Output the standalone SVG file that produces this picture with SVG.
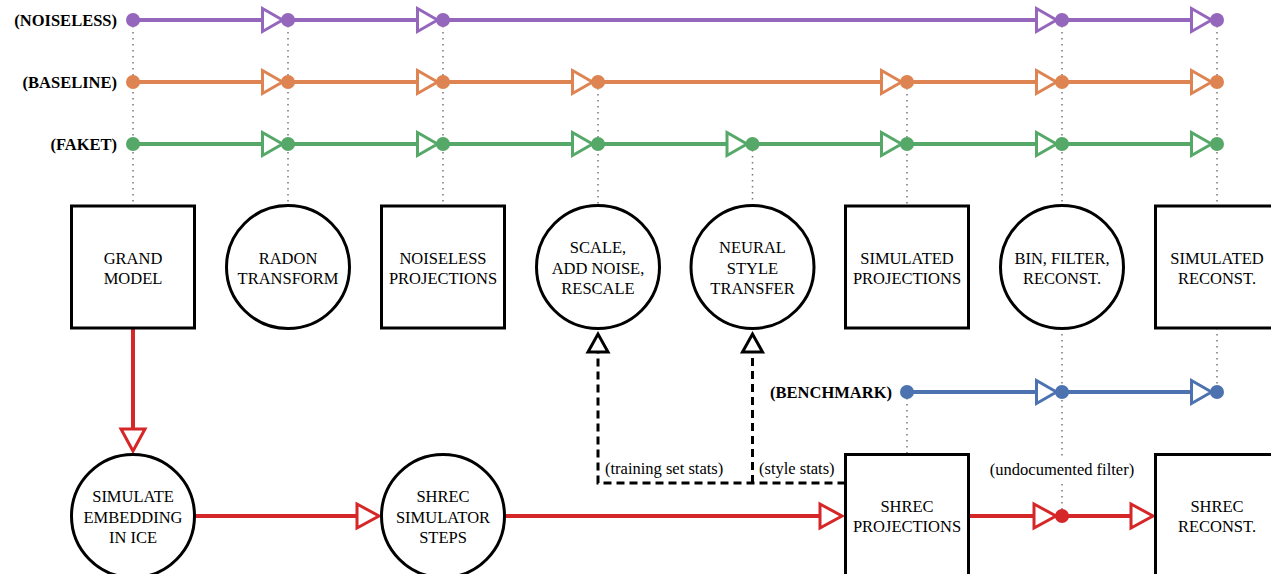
<svg xmlns="http://www.w3.org/2000/svg" width="1271" height="574" viewBox="0 0 1271 574" font-family="'Liberation Serif', Tinos, 'Times New Roman', 'DejaVu Serif', serif">
<style>
text{font-family:'Liberation Serif',Tinos,'Times New Roman','DejaVu Serif',serif;font-size:16.5px;fill:#000}
.lbl{font-weight:bold;text-anchor:end}
.nt{text-anchor:middle}
.node{fill:#fff;stroke:#000;stroke-width:3}
.dot{fill:none;stroke:#777;stroke-width:1.5;stroke-dasharray:1.5 4.5}
.flow{fill:none;stroke-width:4}
.pu{stroke:#9467bd}.or{stroke:#dd8452}.gr{stroke:#55a868}.bl{stroke:#4c72b0}.rd{stroke:#d62728}
.dash{fill:none;stroke:#000;stroke-width:3;stroke-dasharray:8 5}
</style>
<defs>
<marker id="mpu" markerUnits="userSpaceOnUse" viewBox="-3 -16 28 32" markerWidth="28" markerHeight="32" refX="0" refY="0" orient="auto"><path d="M0,-11.5L20,0L0,11.5Z" fill="#fff" stroke="#9467bd" stroke-width="3"/></marker>
<marker id="mor" markerUnits="userSpaceOnUse" viewBox="-3 -16 28 32" markerWidth="28" markerHeight="32" refX="0" refY="0" orient="auto"><path d="M0,-11.5L20,0L0,11.5Z" fill="#fff" stroke="#dd8452" stroke-width="3"/></marker>
<marker id="mgr" markerUnits="userSpaceOnUse" viewBox="-3 -16 28 32" markerWidth="28" markerHeight="32" refX="0" refY="0" orient="auto"><path d="M0,-11.5L20,0L0,11.5Z" fill="#fff" stroke="#55a868" stroke-width="3"/></marker>
<marker id="mbl" markerUnits="userSpaceOnUse" viewBox="-3 -16 28 32" markerWidth="28" markerHeight="32" refX="0" refY="0" orient="auto"><path d="M0,-11.5L20,0L0,11.5Z" fill="#fff" stroke="#4c72b0" stroke-width="3"/></marker>
<marker id="mrd" markerUnits="userSpaceOnUse" viewBox="-3 -16 30 32" markerWidth="30" markerHeight="32" refX="0" refY="0" orient="auto"><path d="M0,-12L22,0L0,12Z" fill="#fff" stroke="#d62728" stroke-width="3"/></marker>
<marker id="mbk" markerUnits="userSpaceOnUse" viewBox="-3 -14 26 28" markerWidth="26" markerHeight="28" refX="0" refY="0" orient="auto"><path d="M0,-10L18,0L0,10Z" fill="#fff" stroke="#000" stroke-width="3" stroke-dasharray="none"/></marker>
</defs>

<g id="guides">
<path class="dot" d="M133,20V206M288,20V206M443,20V206M598,82V206M752.5,144V206M907,82V206M907,392V454M1062,20V206M1062,328V458M1062,484V516M1217,20V206M1217,328V392"/>
</g>

<g id="connectors">
<g class="flow pu">
<line x1="133" y1="20" x2="262.5" y2="20" marker-end="url(#mpu)"/>
<line x1="288" y1="20" x2="417.5" y2="20" marker-end="url(#mpu)"/>
<line x1="443" y1="20" x2="1036.5" y2="20" marker-end="url(#mpu)"/>
<line x1="1062" y1="20" x2="1191.5" y2="20" marker-end="url(#mpu)"/>
</g>
<g class="flow or">
<line x1="133" y1="82" x2="262.5" y2="82" marker-end="url(#mor)"/>
<line x1="288" y1="82" x2="417.5" y2="82" marker-end="url(#mor)"/>
<line x1="443" y1="82" x2="572.5" y2="82" marker-end="url(#mor)"/>
<line x1="598" y1="82" x2="881.5" y2="82" marker-end="url(#mor)"/>
<line x1="907" y1="82" x2="1036.5" y2="82" marker-end="url(#mor)"/>
<line x1="1062" y1="82" x2="1191.5" y2="82" marker-end="url(#mor)"/>
</g>
<g class="flow gr">
<line x1="133" y1="144" x2="262.5" y2="144" marker-end="url(#mgr)"/>
<line x1="288" y1="144" x2="417.5" y2="144" marker-end="url(#mgr)"/>
<line x1="443" y1="144" x2="572.5" y2="144" marker-end="url(#mgr)"/>
<line x1="598" y1="144" x2="727" y2="144" marker-end="url(#mgr)"/>
<line x1="752.5" y1="144" x2="881.5" y2="144" marker-end="url(#mgr)"/>
<line x1="907" y1="144" x2="1036.5" y2="144" marker-end="url(#mgr)"/>
<line x1="1062" y1="144" x2="1191.5" y2="144" marker-end="url(#mgr)"/>
</g>
<g class="flow bl">
<line x1="907" y1="392" x2="1036.5" y2="392" marker-end="url(#mbl)"/>
<line x1="1062" y1="392" x2="1191.5" y2="392" marker-end="url(#mbl)"/>
</g>
<g class="flow rd">
<line x1="133" y1="328" x2="133" y2="429" marker-end="url(#mrd)"/>
<line x1="194.5" y1="516" x2="357" y2="516" marker-end="url(#mrd)"/>
<line x1="504.5" y1="516" x2="820" y2="516" marker-end="url(#mrd)"/>
<line x1="968.5" y1="516" x2="1034" y2="516" marker-end="url(#mrd)"/>
<line x1="1062" y1="516" x2="1131" y2="516" marker-end="url(#mrd)"/>
</g>
<path class="dash" d="M845.5,483H598V352" marker-end="url(#mbk)"/>
<path class="dash" d="M752.5,483V352" marker-end="url(#mbk)"/>
<g id="points">
<circle cx="133" cy="20" r="7" fill="#9467bd"/><circle cx="288" cy="20" r="7" fill="#9467bd"/><circle cx="443" cy="20" r="7" fill="#9467bd"/><circle cx="1062" cy="20" r="7" fill="#9467bd"/><circle cx="1217" cy="20" r="7" fill="#9467bd"/>
<circle cx="133" cy="82" r="7" fill="#dd8452"/><circle cx="288" cy="82" r="7" fill="#dd8452"/><circle cx="443" cy="82" r="7" fill="#dd8452"/><circle cx="598" cy="82" r="7" fill="#dd8452"/><circle cx="907" cy="82" r="7" fill="#dd8452"/><circle cx="1062" cy="82" r="7" fill="#dd8452"/><circle cx="1217" cy="82" r="7" fill="#dd8452"/>
<circle cx="133" cy="144" r="7" fill="#55a868"/><circle cx="288" cy="144" r="7" fill="#55a868"/><circle cx="443" cy="144" r="7" fill="#55a868"/><circle cx="598" cy="144" r="7" fill="#55a868"/><circle cx="752.5" cy="144" r="7" fill="#55a868"/><circle cx="907" cy="144" r="7" fill="#55a868"/><circle cx="1062" cy="144" r="7" fill="#55a868"/><circle cx="1217" cy="144" r="7" fill="#55a868"/>
<circle cx="907" cy="392" r="7" fill="#4c72b0"/><circle cx="1062" cy="392" r="7" fill="#4c72b0"/><circle cx="1217" cy="392" r="7" fill="#4c72b0"/>
<circle cx="1062" cy="516" r="7" fill="#d62728"/>
</g>
</g>

<g id="labels">
<text class="lbl" x="117" y="26">(NOISELESS)</text>
<text class="lbl" x="117" y="88">(BASELINE)</text>
<text class="lbl" x="117" y="150">(FAKET)</text>
<text class="lbl" x="892" y="398">(BENCHMARK)</text>
<text x="605" y="474">(training set stats)</text>
<text x="759" y="474">(style stats)</text>
<text class="nt" x="1062" y="475">(undocumented filter)</text>
</g>

<g id="grand-model"><rect class="node" x="71.5" y="206" width="123" height="122"/><text class="nt" x="133" y="263.5">GRAND</text><text class="nt" x="133" y="284">MODEL</text></g>
<g id="radon-transform"><circle class="node" cx="288" cy="267" r="61.5"/><text class="nt" x="288" y="263.5">RADON</text><text class="nt" x="288" y="284">TRANSFORM</text></g>
<g id="noiseless-projections"><rect class="node" x="381.5" y="206" width="123" height="122"/><text class="nt" x="443" y="263.5">NOISELESS</text><text class="nt" x="443" y="284">PROJECTIONS</text></g>
<g id="scale-noise"><circle class="node" cx="598" cy="267" r="61.5"/><text class="nt" x="598" y="253">SCALE,</text><text class="nt" x="598" y="273.5">ADD NOISE,</text><text class="nt" x="598" y="294">RESCALE</text></g>
<g id="neural-style"><circle class="node" cx="752.5" cy="267" r="61.5"/><text class="nt" x="752.5" y="253">NEURAL</text><text class="nt" x="752.5" y="273.5">STYLE</text><text class="nt" x="752.5" y="294">TRANSFER</text></g>
<g id="simulated-projections"><rect class="node" x="845.5" y="206" width="123" height="122"/><text class="nt" x="907" y="263.5">SIMULATED</text><text class="nt" x="907" y="284">PROJECTIONS</text></g>
<g id="bin-filter"><circle class="node" cx="1062" cy="267" r="61.5"/><text class="nt" x="1062" y="263.5">BIN, FILTER,</text><text class="nt" x="1062" y="284">RECONST.</text></g>
<g id="simulated-reconst"><rect class="node" x="1155.5" y="206" width="123" height="122"/><text class="nt" x="1217" y="263.5">SIMULATED</text><text class="nt" x="1217" y="284">RECONST.</text></g>

<g id="simulate-embedding"><circle class="node" cx="133" cy="516" r="61.5"/><text class="nt" x="133" y="502">SIMULATE</text><text class="nt" x="133" y="522.5">EMBEDDING</text><text class="nt" x="133" y="543">IN ICE</text></g>
<g id="shrec-simulator"><circle class="node" cx="443" cy="516" r="61.5"/><text class="nt" x="443" y="502">SHREC</text><text class="nt" x="443" y="522.5">SIMULATOR</text><text class="nt" x="443" y="543">STEPS</text></g>
<g id="shrec-projections"><rect class="node" x="845.5" y="454.5" width="123" height="124"/><text class="nt" x="907" y="511.5">SHREC</text><text class="nt" x="907" y="532">PROJECTIONS</text></g>
<g id="shrec-reconst"><rect class="node" x="1155.5" y="454.5" width="123" height="124"/><text class="nt" x="1217" y="511.5">SHREC</text><text class="nt" x="1217" y="532">RECONST.</text></g>
</svg>
